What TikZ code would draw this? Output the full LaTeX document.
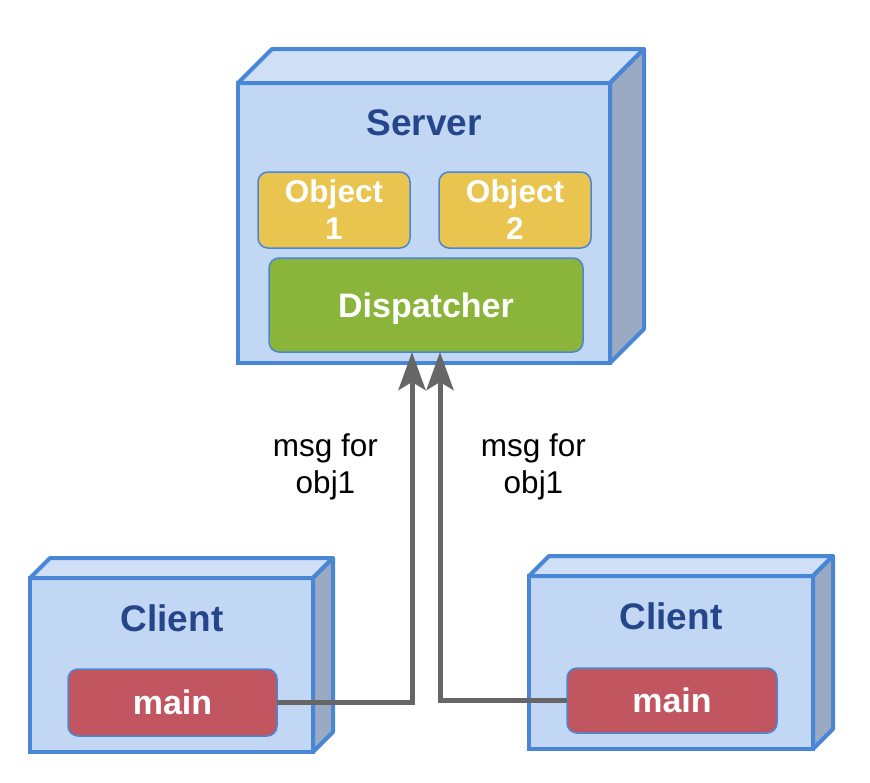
\documentclass[tikz,border=0pt]{standalone}
\usepackage{fontspec}
\setmainfont{Liberation Sans}
\usetikzlibrary{arrows.meta,positioning}

\definecolor{faceblue}{HTML}{C2D7F3}
\definecolor{topblue}{HTML}{CFDFF5}
\definecolor{sideblue}{HTML}{99AAC2}
\definecolor{edgeblue}{HTML}{4A86D6}
\definecolor{titleblue}{HTML}{25468A}
\definecolor{objyellow}{HTML}{E9C550}
\definecolor{dispgreen}{HTML}{8BB43A}
\definecolor{mainred}{HTML}{C25660}
\definecolor{msggray}{HTML}{666666}

\begin{document}
\begin{tikzpicture}[x=1pt,y=-1pt,
 box/.style={rectangle,draw=edgeblue,line width=4pt,fill=faceblue,outer sep=0pt},
 face/.style={draw=edgeblue,line width=4pt,line join=round},
 part/.style={rectangle,rounded corners=10pt,draw=edgeblue,line width=1.5pt,text=white,font=\bfseries\fontsize{34}{37}\selectfont,align=center,inner sep=0pt,outer sep=0pt},
 title/.style={text=titleblue,font=\bfseries\fontsize{37}{44}\selectfont,inner sep=0pt},
 msg/.style={font=\fontsize{31.5}{37}\selectfont,align=center,inner sep=0pt},
 flow/.style={draw=msggray,line width=5pt,-{Stealth[length=38pt,width=27pt,inset=8pt]}}]
\useasboundingbox (0,0) rectangle (870,782);

% Nodes
\node[box,minimum width=372pt,minimum height=280pt] (server) at (424,223) {};
\node[box,minimum width=283pt,minimum height=174pt] (lclient) at (171.5,665) {};
\node[box,minimum width=284pt,minimum height=173pt] (rclient) at (671,662.5) {};

\node[title] (servertitle) at (424,123) {Server};
\node[title] (ltitle) at (172,618) {Client};
\node[title] (rtitle) at (671,616) {Client};

\node[part,fill=objyellow,minimum width=152pt,minimum height=76pt,font=\bfseries\fontsize{31.5}{37}\selectfont] (obj1) at (334,210) {Object\\1};
\node[part,fill=objyellow,minimum width=152pt,minimum height=76pt,font=\bfseries\fontsize{31.5}{37}\selectfont,right=29pt of obj1] (obj2) {Object\\2};
\node[part,fill=dispgreen,minimum width=314pt,minimum height=94pt,text depth=0pt] (disp) at (426,305) {Dispatcher};

\node[part,fill=mainred,minimum width=209pt,minimum height=67pt] (lmain) at (172.5,702.5) {main};
\node[part,fill=mainred,minimum width=210pt,minimum height=65pt] (rmain) at (672,700.5) {main};

% top and side faces
\foreach \b/\d in {server/34,lclient/20,rclient/20}{
 \draw[face,fill=topblue] (\b.north west) -- ([shift={(\d,-\d)}]\b.north west) -- ([shift={(\d,-\d)}]\b.north east) -- (\b.north east) -- cycle;
 \draw[face,fill=sideblue] (\b.north east) -- ([shift={(\d,-\d)}]\b.north east) -- ([shift={(\d,-\d)}]\b.south east) -- (\b.south east) -- cycle;
}

%arcs
\draw[flow] (lmain.east) -| ([xshift=-14pt]disp.south);
\draw[flow] (rmain.west) -| ([xshift=14pt]disp.south);

\node[msg] (lmsg) at (325.5,467) {msg for\\obj1};
\node[msg] (rmsg) at (533.5,467) {msg for\\obj1};
\end{tikzpicture}
\end{document}
